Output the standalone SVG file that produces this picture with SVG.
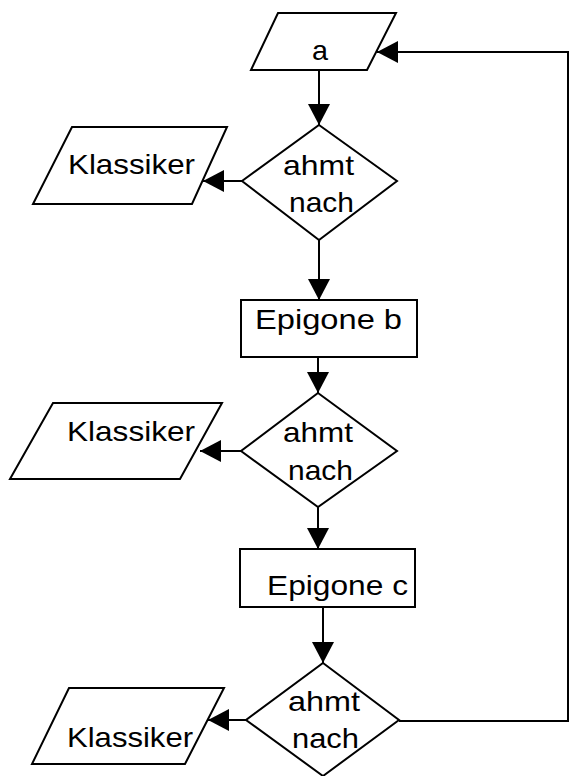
<svg xmlns="http://www.w3.org/2000/svg" width="570" height="776" viewBox="0 0 570 776">
  <defs>
    <marker id="arrow" markerUnits="userSpaceOnUse" markerWidth="23" markerHeight="24" refX="21" refY="11" orient="auto">
      <path d="M0,0 L21,11 L0,22 Z" fill="#000"/>
    </marker>
    <style>
      .shape { fill: #fff; stroke: #000; stroke-width: 2; stroke-linejoin: miter; }
      .conn { fill: none; stroke: #000; stroke-width: 2; }
      .arr { marker-end: url(#arrow); }
      text { font-family: "Liberation Sans", Arial, Helvetica, sans-serif; fill: #000; font-size: 28px; }
    </style>
  </defs>
  <rect width="570" height="776" fill="#fff"/>

  <!-- connectors -->
  <g id="connectors">
    <line class="conn arr" x1="319" y1="70" x2="319" y2="125"/>
    <line class="conn arr" x1="242" y1="181" x2="203" y2="181"/>
    <line class="conn arr" x1="319" y1="240" x2="319" y2="300"/>
    <line class="conn arr" x1="318" y1="357" x2="318" y2="393"/>
    <line class="conn arr" x1="241" y1="451" x2="200" y2="451"/>
    <line class="conn arr" x1="318" y1="507" x2="318" y2="549"/>
    <line class="conn arr" x1="323" y1="607" x2="323" y2="663"/>
    <line class="conn arr" x1="246" y1="720" x2="208" y2="720"/>
    <polyline class="conn arr" points="399,721 568,721 568,52 377,52"/>
  </g>

  <!-- input a -->
  <g id="input-a">
    <path class="shape" d="M278,13 L396,13 L367,70 L251,70 Z"/>
    <text x="312" y="60" font-size="32" textLength="16" lengthAdjust="spacingAndGlyphs">a</text>
  </g>

  <!-- first decision -->
  <g id="decision-1">
    <path class="shape" d="M319,125 L397,181 L319,240 L242,181 Z"/>
    <text x="283" y="175" textLength="71" lengthAdjust="spacingAndGlyphs">ahmt</text>
    <text x="289" y="212" textLength="65" lengthAdjust="spacingAndGlyphs">nach</text>
  </g>

  <g id="klassiker-1">
    <path class="shape" d="M72,127 L227,127 L192,204 L33,204 Z"/>
    <text x="68" y="174" textLength="127" lengthAdjust="spacingAndGlyphs">Klassiker</text>
  </g>

  <g id="epigone-b">
    <rect class="shape" x="241" y="300" width="176" height="57"/>
    <text x="255" y="329" font-size="27" textLength="147" lengthAdjust="spacingAndGlyphs">Epigone b</text>
  </g>

  <!-- second decision -->
  <g id="decision-2">
    <path class="shape" d="M318,393 L397,451 L318,507 L241,451 Z"/>
    <text x="283" y="442" textLength="70" lengthAdjust="spacingAndGlyphs">ahmt</text>
    <text x="288" y="480" textLength="65" lengthAdjust="spacingAndGlyphs">nach</text>
  </g>

  <g id="klassiker-2">
    <path class="shape" d="M53,403 L222,403 L180,479 L10,479 Z"/>
    <text x="67" y="441" textLength="128" lengthAdjust="spacingAndGlyphs">Klassiker</text>
  </g>

  <g id="epigone-c">
    <rect class="shape" x="240" y="549" width="175" height="58"/>
    <text x="267" y="595" textLength="141" lengthAdjust="spacingAndGlyphs">Epigone c</text>
  </g>

  <!-- third decision -->
  <g id="decision-3">
    <path class="shape" d="M323,663 L399,720 L323,776 L246,720 Z"/>
    <text x="288" y="711" textLength="72" lengthAdjust="spacingAndGlyphs">ahmt</text>
    <text x="292" y="748" textLength="67" lengthAdjust="spacingAndGlyphs">nach</text>
  </g>

  <g id="klassiker-3">
    <path class="shape" d="M69,688 L224,688 L185,764 L32,764 Z"/>
    <text x="67" y="747" textLength="126" lengthAdjust="spacingAndGlyphs">Klassiker</text>
  </g>
</svg>
